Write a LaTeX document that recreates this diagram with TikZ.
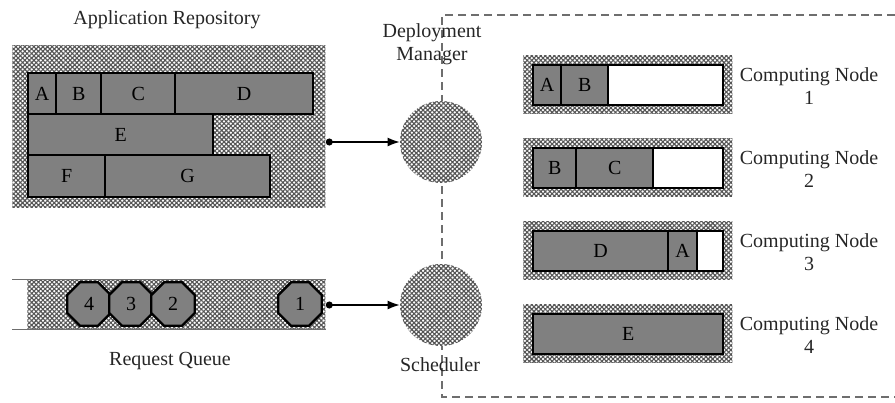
\documentclass[tikz,border=0pt]{standalone}
\usepackage{fontspec}
\setmainfont{Liberation Serif}
\usepackage{tikz}
\usetikzlibrary{shapes.geometric,arrows.meta,positioning,patterns.meta}
\definecolor{cellgrey}{RGB}{128,128,128}
\definecolor{hatchgrey}{RGB}{85,85,85}
\definecolor{framegrey}{RGB}{110,110,110}

\begin{document}
\begin{tikzpicture}[x=0.5pt, y=-0.5pt,
    font=\fontsize{10}{11.5}\selectfont,
    hatch/.style={fill=white, postaction={pattern={Hatch[angle=45,distance=1.6pt,line width=0.55pt]}, pattern color=hatchgrey}},
    cell/.style={draw, line width=1.2pt, fill=cellgrey, anchor=north west, inner sep=0pt},
    free/.style={cell, fill=white},
    octa/.style={regular polygon, regular polygon sides=8, draw, line width=1.2pt, fill=cellgrey, minimum size=23.5pt, inner sep=0pt},
    link/.style={{Circle[length=3.5pt]}-{Latex[length=6pt,width=4.5pt]}, line width=0.6pt},
    caption/.style={text=black!85, align=center},
]
    \useasboundingbox (0,0) rectangle (895,402);

    % dashed frame round the cluster
    \draw[framegrey, line width=0.6pt, dash pattern=on 4pt off 2.5pt]
        (895,15) -- (442,15) -- (442,397) -- (895,397);

    % application repository
    \node[caption] (repotitle) at (167,20) {Application Repository};
    \node[hatch, anchor=north west, minimum width=156.5pt, minimum height=81pt, inner sep=0pt] (repo) at (12,45) {};
    \foreach \n/\x/\w in {A/27/28, B/55/45, C/100/74, D/174/138} {
        \node[cell, minimum width=\w*0.5pt, minimum height=20.5pt] (app\n) at (\x,72) {\n};
    }
    \node[cell, minimum width=92.5pt, minimum height=20.5pt] (appE) at (27,113) {E};
    \foreach \n/\x/\w in {F/27/77, G/104/165} {
        \node[cell, minimum width=\w*0.5pt, minimum height=21pt] (app\n) at (\x,154) {\n};
    }

    % request queue
    \node[hatch, anchor=north west, minimum width=149pt, minimum height=25pt, inner sep=0pt] (queue) at (27,279) {};
    \draw[framegrey, line width=0.5pt] ([xshift=-7.5pt]queue.north west) -- (queue.north east);
    \draw[framegrey, line width=0.5pt] ([xshift=-7.5pt]queue.south west) -- (queue.south east);
    \foreach \n/\x in {4/89, 3/131, 2/173, 1/300} {
        \node[octa] (req\n) at (\x,304) {\n};
    }
    \node[caption] (queuetitle) at (170,361) {Request Queue};

    % deployment manager and scheduler
    \node[hatch, circle, minimum size=41pt, inner sep=0pt] (dm) at (441,142) {};
    \node[hatch, circle, minimum size=41pt, inner sep=0pt] (sched) at (441,305) {};
    \node[caption] (dmtitle) at (432,44) {Deployment\\Manager};
    \node[caption] (schedtitle) at (440,365) {Scheduler};

    \draw[link] (dm.west -| repo.east) -- (dm.west);
    \draw[link] (sched.west -| queue.east) -- (sched.west);

    % computing nodes
    \foreach \i/\y in {1/64, 2/147, 3/230, 4/313} {
        \node[hatch, anchor=north west, minimum width=104.5pt, minimum height=29pt, inner sep=0pt] (cn\i) at (523,\y-9) {};
        \node[caption, right=0pt of cn\i, yshift=-1pt] (cnlabel\i) {Computing Node\\\i};
    }
    \node[cell, minimum width=14pt, minimum height=20pt] (cn1A) at (532,64) {A};
    \node[cell, minimum width=23.5pt, minimum height=20pt] (cn1B) at (560,64) {B};
    \node[free, minimum width=57.5pt, minimum height=20pt] (cn1free) at (607,64) {};

    \node[cell, minimum width=21.5pt, minimum height=20pt] (cn2B) at (532,147) {B};
    \node[cell, minimum width=38.5pt, minimum height=20pt] (cn2C) at (575,147) {C};
    \node[free, minimum width=35pt, minimum height=20pt] (cn2free) at (652,147) {};

    \node[cell, minimum width=67.5pt, minimum height=20pt] (cn3D) at (532,230) {D};
    \node[cell, minimum width=14.5pt, minimum height=20pt] (cn3A) at (667,230) {A};
    \node[free, minimum width=13pt, minimum height=20pt] (cn3free) at (696,230) {};

    \node[cell, minimum width=95pt, minimum height=20pt] (cn4E) at (532,313) {E};
\end{tikzpicture}
\end{document}
